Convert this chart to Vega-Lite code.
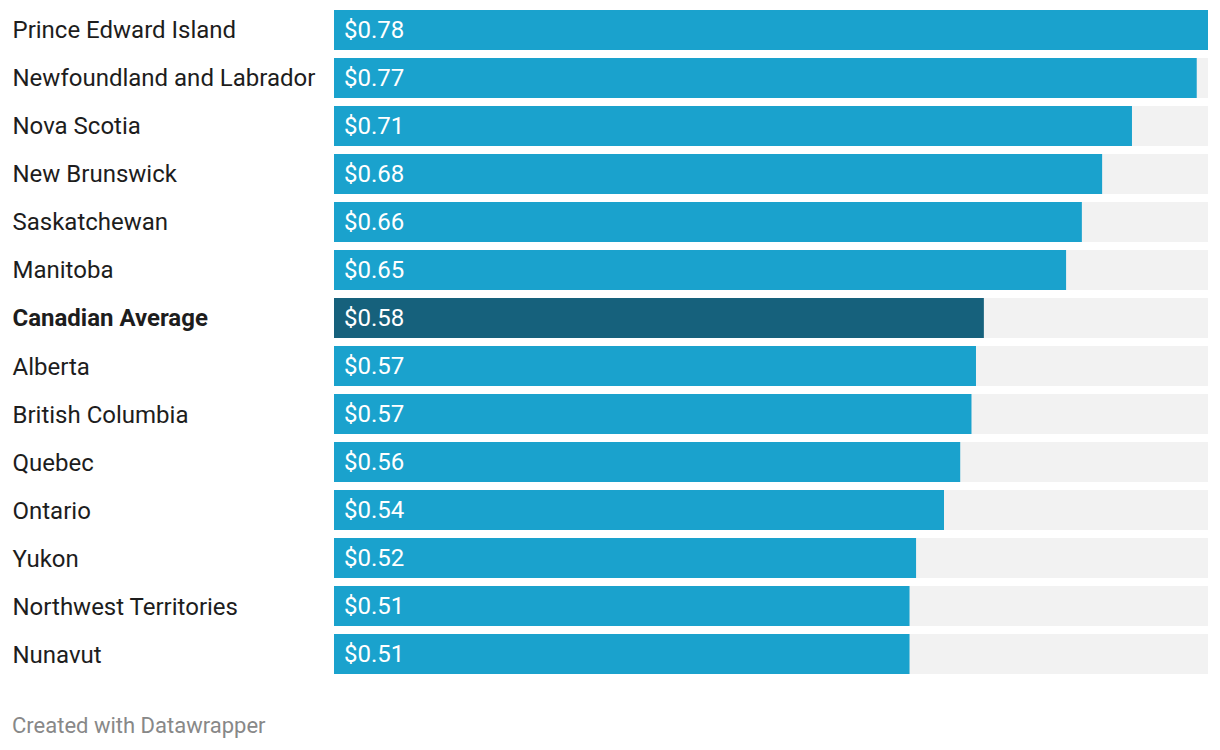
{
  "$schema": "https://vega.github.io/schema/vega-lite/v6.json",
  "autosize": "none",
  "width": 874,
  "height": 672,
  "padding": {"left": 334, "top": 6, "right": 12, "bottom": 72},
  "background": "white",
  "config": {"view": {"stroke": null}, "font": "Roboto"},
  "data": {"values": [
    {"region": "Prince Edward Island", "value": 0.776},
    {"region": "Newfoundland and Labrador", "value": 0.766},
    {"region": "Nova Scotia", "value": 0.7085},
    {"region": "New Brunswick", "value": 0.682},
    {"region": "Saskatchewan", "value": 0.664},
    {"region": "Manitoba", "value": 0.650},
    {"region": "Canadian Average", "value": 0.577},
    {"region": "Alberta", "value": 0.570},
    {"region": "British Columbia", "value": 0.566},
    {"region": "Quebec", "value": 0.556},
    {"region": "Ontario", "value": 0.5416},
    {"region": "Yukon", "value": 0.5168},
    {"region": "Northwest Territories", "value": 0.511},
    {"region": "Nunavut", "value": 0.511}
  ]},
  "title": {
    "text": "Created with Datawrapper",
    "orient": "bottom",
    "anchor": "start",
    "frame": "group",
    "dx": -322,
    "offset": 38,
    "fontSize": 22,
    "fontWeight": "normal",
    "color": "#888888",
    "font": "Roboto"
  },
  "encoding": {
    "y": {
      "field": "region",
      "type": "nominal",
      "sort": null,
      "scale": {"paddingInner": 0.1667, "paddingOuter": 0.0833},
      "axis": {
        "title": null,
        "ticks": false,
        "domain": false,
        "labelAlign": "left",
        "labelPadding": 322,
        "labelOffset": 1.5,
        "labelFontSize": 24,
        "labelColor": "#1d1d1d",
        "labelFont": "Roboto",
        "labelLimit": 400,
        "labelFontWeight": {"condition": {"test": "datum.value == 'Canadian Average'", "value": "bold"}, "value": "normal"}
      }
    }
  },
  "layer": [
    {
      "mark": {"type": "bar", "color": "#f2f2f2"},
      "encoding": {
        "x": {"datum": 0.776, "type": "quantitative", "scale": {"domain": [0, 0.776], "nice": false}, "axis": null}
      }
    },
    {
      "mark": {"type": "bar"},
      "encoding": {
        "x": {"field": "value", "type": "quantitative", "scale": {"domain": [0, 0.776], "nice": false}, "axis": null},
        "color": {
          "condition": {"test": "datum.region == 'Canadian Average'", "value": "#16617c"},
          "value": "#1aa2cd"
        }
      }
    },
    {
      "mark": {"type": "text", "align": "left", "dx": 10, "dy": 1, "fontSize": 24, "color": "white", "font": "Roboto"},
      "encoding": {
        "x": {"datum": 0, "type": "quantitative"},
        "text": {"field": "value", "type": "quantitative", "format": "$.2f"}
      }
    }
  ]
}
